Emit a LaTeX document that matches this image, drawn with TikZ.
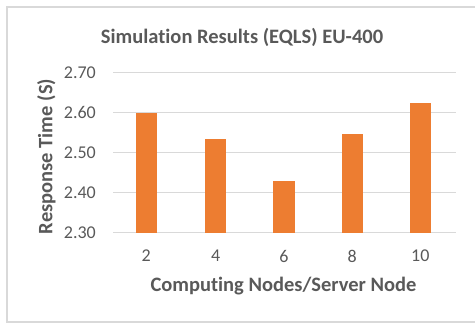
\documentclass[tikz,border=0pt]{standalone}
\usepackage{fontspec}
\setmainfont[Ligatures=NoCommon]{Carlito}
\definecolor{barorange}{HTML}{ED7D31}
\definecolor{txtgray}{HTML}{595959}
\definecolor{gridgray}{HTML}{D9D9D9}
\begin{document}
\begin{tikzpicture}[x=1pt,y=-1pt,
  gridline/.style={draw=gridgray,line width=1.3pt},
  bar/.style={fill=barorange,draw=none},
  ticklbl/.style={text=txtgray,font=\fontsize{18}{20}\selectfont,inner sep=0pt},
  axtitle/.style={text=txtgray,font=\bfseries\fontsize{20.5}{22}\selectfont,inner sep=0pt},
  frame/.style={draw=gridgray,line width=2pt}]
\useasboundingbox (0,0) rectangle (475,324);
\begin{scope}
\clip (0,0) rectangle (475,324);
\draw[frame] (6.7,6.7) rectangle (480,321.5);
\end{scope}
% title
\node[axtitle] (title) at (242,37) {Simulation Results (EQLS) EU-400};
% grid
\foreach \y in {232.5,192.5,152.5,112.5,72.5}{
  \draw[gridline] (113,\y) -- (456,\y);
}
\foreach \lbl/\y in {2.30/232.5,2.40/192.5,2.50/152.5,2.60/112.5,2.70/72.5}{
  \node[ticklbl,anchor=east] at (96,\y) {\lbl};
}
% bars: value -> y = 232.5 - (v-2.30)*400
\foreach \cx/\top/\lbl in {146.3/113.3/2, 215.7/139/4, 284/181/6, 352.3/134/8, 420.3/103.3/10}{
  \fill[bar] (\cx-10.7,\top) rectangle (\cx+10.7,232.5);
  \node[ticklbl] at (\cx,256) {\lbl};
}
% axis titles
\node[axtitle] (xtitle) at (283.5,286) {Computing Nodes/Server Node};
\node[axtitle,rotate=90] (ytitle) at (46.5,156.5) {Response Time (S)};
\end{tikzpicture}
\end{document}
